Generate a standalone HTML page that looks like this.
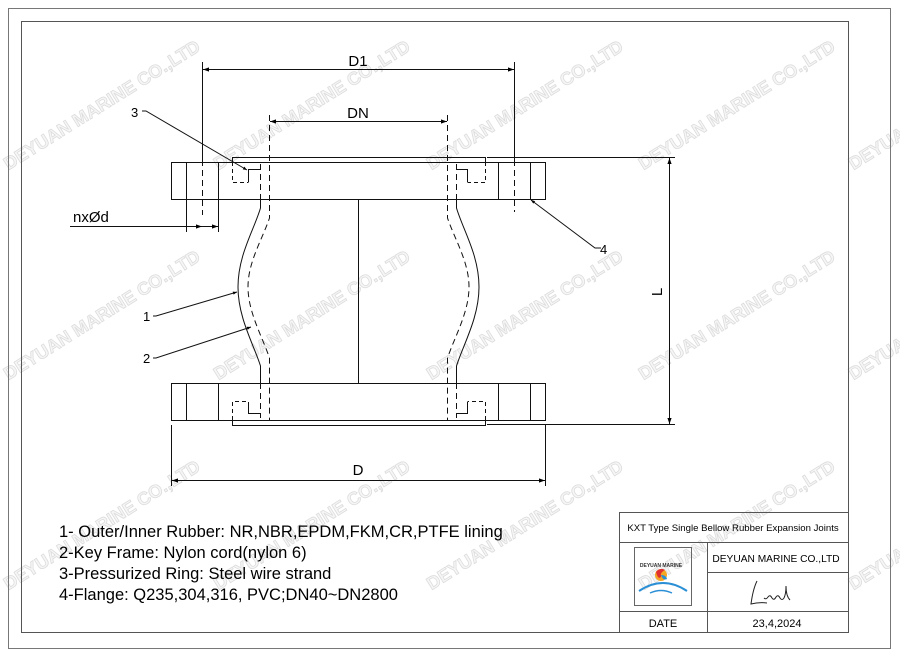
<!DOCTYPE html>
<html><head><meta charset="utf-8"><style>
html,body{margin:0;padding:0;background:#fff;}
svg{display:block;}
text{font-family:"Liberation Sans",Arial,sans-serif;}
.wm{font-family:"Liberation Sans",sans-serif;font-weight:bold;font-size:18px;fill:#f6f6f6;stroke:#dcdcdc;stroke-width:0.8;}
</style></head><body>
<svg width="900" height="656" viewBox="0 0 900 656" xmlns="http://www.w3.org/2000/svg">
<defs>
<marker id="a" viewBox="0 0 10 10" refX="10" refY="5" markerWidth="12" markerHeight="6" markerUnits="userSpaceOnUse" orient="auto-start-reverse"><path d="M0,1.5 L10,5 L0,8.5z" fill="#000"/></marker>
<marker id="s" viewBox="0 0 10 10" refX="10" refY="5" markerWidth="7" markerHeight="4" markerUnits="userSpaceOnUse" orient="auto"><path d="M0,1 L10,5 L0,9z" fill="#000"/></marker>
</defs>
<g>
<text class="wm" transform="translate(105,110) rotate(-32)" text-anchor="middle">DEYUAN MARINE CO.,LTD</text>
<text class="wm" transform="translate(315,110) rotate(-32)" text-anchor="middle">DEYUAN MARINE CO.,LTD</text>
<text class="wm" transform="translate(528,110) rotate(-32)" text-anchor="middle">DEYUAN MARINE CO.,LTD</text>
<text class="wm" transform="translate(740,110) rotate(-32)" text-anchor="middle">DEYUAN MARINE CO.,LTD</text>
<text class="wm" transform="translate(950,110) rotate(-32)" text-anchor="middle">DEYUAN MARINE CO.,LTD</text>
<text class="wm" transform="translate(105,320) rotate(-32)" text-anchor="middle">DEYUAN MARINE CO.,LTD</text>
<text class="wm" transform="translate(315,320) rotate(-32)" text-anchor="middle">DEYUAN MARINE CO.,LTD</text>
<text class="wm" transform="translate(528,320) rotate(-32)" text-anchor="middle">DEYUAN MARINE CO.,LTD</text>
<text class="wm" transform="translate(740,320) rotate(-32)" text-anchor="middle">DEYUAN MARINE CO.,LTD</text>
<text class="wm" transform="translate(950,320) rotate(-32)" text-anchor="middle">DEYUAN MARINE CO.,LTD</text>
<text class="wm" transform="translate(105,530) rotate(-32)" text-anchor="middle">DEYUAN MARINE CO.,LTD</text>
<text class="wm" transform="translate(315,530) rotate(-32)" text-anchor="middle">DEYUAN MARINE CO.,LTD</text>
<text class="wm" transform="translate(528,530) rotate(-32)" text-anchor="middle">DEYUAN MARINE CO.,LTD</text>
<text class="wm" transform="translate(740,530) rotate(-32)" text-anchor="middle">DEYUAN MARINE CO.,LTD</text>
<text class="wm" transform="translate(950,530) rotate(-32)" text-anchor="middle">DEYUAN MARINE CO.,LTD</text>
</g>
<rect x="8.5" y="8.5" width="882" height="640" fill="none" stroke="#777" stroke-width="1"/>
<rect x="21.5" y="21.5" width="827" height="611" fill="none" stroke="#555" stroke-width="1"/>

<g fill="none" stroke="#111" stroke-width="1">
<rect x="171.5" y="162.5" width="374" height="37"/>
<line x1="186.5" y1="162" x2="186.5" y2="199"/><line x1="218.5" y1="162" x2="218.5" y2="199"/>
<line x1="498.5" y1="162" x2="498.5" y2="199"/><line x1="530.5" y1="162" x2="530.5" y2="199"/>
<polyline points="232.5,162 232.5,157.5 485.5,157.5 485.5,162"/>
<rect x="171.5" y="383.5" width="374" height="37"/>
<line x1="186.5" y1="383" x2="186.5" y2="420"/><line x1="218.5" y1="383" x2="218.5" y2="420"/>
<line x1="498.5" y1="383" x2="498.5" y2="420"/><line x1="530.5" y1="383" x2="530.5" y2="420"/>
<polyline points="232.5,420 232.5,425.5 485.5,425.5 485.5,420"/>
<line x1="358.5" y1="199" x2="358.5" y2="383"/>
<path d="M260.5,199 L260.5,208 C254,230 238,255 238,287 C238,318 254,345 260.5,366 L260.5,383"/>
<path d="M456.5,199 L456.5,208 C463,230 479,255 479,287 C479,318 463,345 456.5,366 L456.5,383"/>
</g>
<g fill="none" stroke="#111" stroke-width="1" stroke-dasharray="6,4">
<path d="M269.5,115 L269.5,218 C262,240 248,262 248,287 C248,312 262,336 269.5,358 L269.5,420"/>
<path d="M447.5,115 L447.5,218 C455,240 469,262 469,287 C469,312 455,336 447.5,358 L447.5,420"/>
<line x1="260.5" y1="164" x2="260.5" y2="199"/><line x1="456.5" y1="164" x2="456.5" y2="199"/>
<line x1="260.5" y1="383" x2="260.5" y2="418"/><line x1="456.5" y1="383" x2="456.5" y2="418"/>
<line x1="202.5" y1="160" x2="202.5" y2="215"/><line x1="514.5" y1="160" x2="514.5" y2="212"/>
</g>
<g fill="none" stroke="#111" stroke-width="1" stroke-dasharray="4,3">
<polyline points="232.5,162 232.5,182.5 248.5,182.5"/>
<polyline points="485.5,162 485.5,182.5 467.5,182.5"/>
<polyline points="232.5,420 232.5,401.5 248.5,401.5"/>
<polyline points="485.5,420 485.5,401.5 467.5,401.5"/>
</g>
<g fill="none" stroke="#111" stroke-width="1">
<polyline points="248.5,182 248.5,169.5 260,169.5"/>
<polyline points="467.5,182 467.5,169.5 456,169.5"/>
<polyline points="248.5,402 248.5,413.5 260,413.5"/>
<polyline points="467.5,402 467.5,413.5 456,413.5"/>
</g>
<g fill="none" stroke="#111" stroke-width="1">
<line x1="202.5" y1="62" x2="202.5" y2="160"/><line x1="514.5" y1="62" x2="514.5" y2="160"/>
<line x1="203" y1="69.5" x2="514" y2="69.5" marker-start="url(#a)" marker-end="url(#a)"/>
<line x1="270" y1="121.5" x2="447" y2="121.5" marker-start="url(#a)" marker-end="url(#a)"/>
<line x1="487" y1="157.5" x2="675" y2="157.5"/><line x1="487" y1="424.5" x2="675" y2="424.5"/>
<line x1="669.5" y1="158" x2="669.5" y2="424" marker-start="url(#a)" marker-end="url(#a)"/>
<line x1="171.5" y1="425" x2="171.5" y2="486"/><line x1="545.5" y1="425" x2="545.5" y2="486"/>
<line x1="172" y1="480.5" x2="545" y2="480.5" marker-start="url(#a)" marker-end="url(#a)"/>
<line x1="186.5" y1="199" x2="186.5" y2="232"/><line x1="218.5" y1="199" x2="218.5" y2="232"/>
<line x1="70" y1="226.5" x2="202" y2="226.5" marker-end="url(#a)"/>
<line x1="202" y1="226.5" x2="218" y2="226.5" marker-end="url(#a)"/>
<polyline points="142,111 146,111 247,170" marker-end="url(#s)"/>
<polyline points="601,248 595,248 531,200" marker-end="url(#s)"/>
<polyline points="153,316 156,316 237,292" marker-end="url(#s)"/>
<polyline points="153,358 156,358 251,327" marker-end="url(#s)"/>
</g>
<g font-size="15" fill="#000">
<text x="358" y="66" text-anchor="middle">D1</text>
<text x="358" y="118" text-anchor="middle">DN</text>
<text x="358" y="475" text-anchor="middle">D</text>
<text x="73" y="222" font-size="15">nxØd</text>
<text transform="translate(662,292) rotate(-90)" text-anchor="middle">L</text>
<text x="131" y="117" font-size="13">3</text>
<text x="600" y="254" font-size="13">4</text>
<text x="143" y="321" font-size="13">1</text>
<text x="143" y="363" font-size="13">2</text>
</g>
<g font-size="16.5" fill="#000">
<text x="59" y="537">1- Outer/Inner Rubber: NR,NBR,EPDM,FKM,CR,PTFE lining</text>
<text x="59" y="558">2-Key Frame: Nylon cord(nylon 6)</text>
<text x="59" y="579">3-Pressurized Ring: Steel wire strand</text>
<text x="59" y="600">4-Flange: Q235,304,316, PVC;DN40~DN2800</text>
</g>
<g fill="none" stroke="#555" stroke-width="1">
<polyline points="619.5,633 619.5,512.5 848,512.5"/>
<line x1="619" y1="542.5" x2="848" y2="542.5"/>
<line x1="707" y1="572.5" x2="848" y2="572.5"/>
<line x1="619" y1="611.5" x2="848" y2="611.5"/>
<line x1="707.5" y1="542" x2="707.5" y2="633"/>
<rect x="634.5" y="547.5" width="57" height="58" stroke="#666"/>
</g>
<g fill="#000">
<text x="733" y="531" text-anchor="middle" font-size="9.6">KXT Type Single Bellow Rubber Expansion Joints</text>
<text x="776" y="562" text-anchor="middle" font-size="10.2">DEYUAN MARINE CO.,LTD</text>
<text x="663" y="627" text-anchor="middle" font-size="11">DATE</text>
<text x="777" y="627" text-anchor="middle" font-size="11">23,4,2024</text>
</g>
<g>
<circle cx="661" cy="575" r="6" fill="#f5a623"/>
<path d="M656,572 q4,-5 9,-2 q-5,2 -4,7 q-3,3 -5,-5z" fill="#e03030"/>
<path d="M661,575 q5,0 6,4 q-4,2 -6,-4z" fill="#2b8fd6"/>
<path d="M639,591 q24,-16 48,0" fill="none" stroke="#2b8fd6" stroke-width="2"/>
<path d="M650,593 q11,-5 22,0" fill="none" stroke="#2b8fd6" stroke-width="1.5"/>
<text x="661" y="567" font-size="5" text-anchor="middle" fill="#333" font-weight="bold">DEYUAN MARINE</text>
</g>
<path d="M757,581 q-4,8 -6,23 q8,-2 16,-1 M764,598 q2,2 4,-1 q2,-3 4,1 q2,3 4,-1 q2,-3 4,1 q2,3 4,0 q2,-4 2,-12 q0,10 4,14" fill="none" stroke="#222" stroke-width="1"/>
</svg>
</body></html>
